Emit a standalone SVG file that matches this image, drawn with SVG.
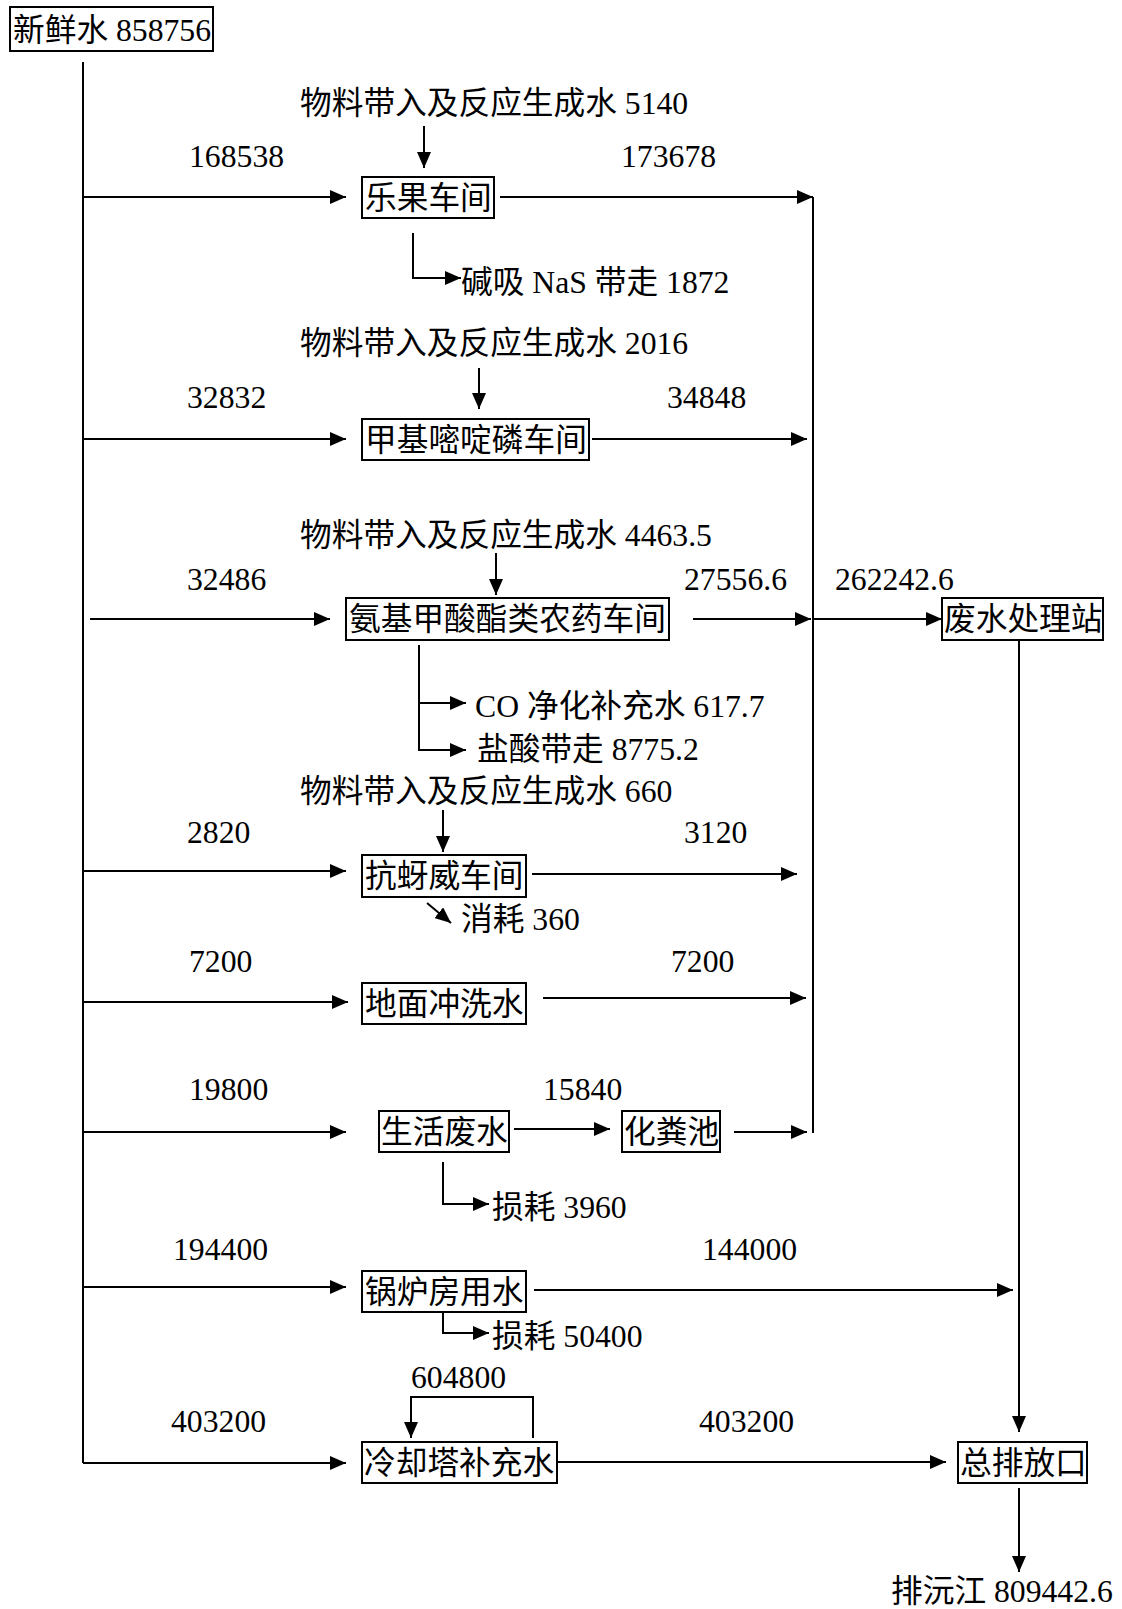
<svg xmlns="http://www.w3.org/2000/svg" width="1122" height="1609" viewBox="0 0 1122 1609">
<style>
.t{font-family:"Liberation Serif","Noto Sans CJK SC",serif;font-size:31.7px;fill:#000}
.ln{stroke:#000;stroke-width:2;fill:none}
.bx{fill:#fff;stroke:#000;stroke-width:2}
</style>
<defs>
<marker id="ah" markerUnits="userSpaceOnUse" markerWidth="16" markerHeight="14" refX="16" refY="7" orient="auto"><path d="M0,0 L16,7 L0,14 z" fill="#000"/></marker>
</defs>
<rect width="1122" height="1609" fill="#fff"/>
<g id="connectors">
<path class="ln" d="M83,62 V1463"/>
<path class="ln" d="M83,197 H346" marker-end="url(#ah)"/>
<path class="ln" d="M424,126 V168" marker-end="url(#ah)"/>
<path class="ln" d="M500,197 H813" marker-end="url(#ah)"/>
<path class="ln" d="M813,197 V1133"/>
<path class="ln" d="M413,233 V278 H461" marker-end="url(#ah)"/>
<path class="ln" d="M479,368 V409" marker-end="url(#ah)"/>
<path class="ln" d="M83,439 H346" marker-end="url(#ah)"/>
<path class="ln" d="M592,439 H807" marker-end="url(#ah)"/>
<path class="ln" d="M496,553 V595" marker-end="url(#ah)"/>
<path class="ln" d="M90,619 H330" marker-end="url(#ah)"/>
<path class="ln" d="M693,619 H811" marker-end="url(#ah)"/>
<path class="ln" d="M813,619 H942" marker-end="url(#ah)"/>
<path class="ln" d="M1019,640 V1432" marker-end="url(#ah)"/>
<path class="ln" d="M419,645 V750 H466" marker-end="url(#ah)"/>
<path class="ln" d="M419,703 H466" marker-end="url(#ah)"/>
<path class="ln" d="M443,810 V852" marker-end="url(#ah)"/>
<path class="ln" d="M83,871 H346" marker-end="url(#ah)"/>
<path class="ln" d="M532,874 H797" marker-end="url(#ah)"/>
<path class="ln" d="M427,903 L451,923" marker-end="url(#ah)"/>
<path class="ln" d="M83,1002 H348" marker-end="url(#ah)"/>
<path class="ln" d="M543,998 H806" marker-end="url(#ah)"/>
<path class="ln" d="M83,1132 H346" marker-end="url(#ah)"/>
<path class="ln" d="M514,1129 H610" marker-end="url(#ah)"/>
<path class="ln" d="M734,1132 H807" marker-end="url(#ah)"/>
<path class="ln" d="M443,1162 V1204 H489" marker-end="url(#ah)"/>
<path class="ln" d="M83,1287 H346" marker-end="url(#ah)"/>
<path class="ln" d="M534,1290 H1013" marker-end="url(#ah)"/>
<path class="ln" d="M443,1313 V1333 H489" marker-end="url(#ah)"/>
<path class="ln" d="M533,1438 V1397 H411 V1438" marker-end="url(#ah)"/>
<path class="ln" d="M83,1463 H346" marker-end="url(#ah)"/>
<path class="ln" d="M557,1462 H946" marker-end="url(#ah)"/>
<path class="ln" d="M1019,1488 V1572" marker-end="url(#ah)"/>
</g>
<g id="labels">
<text class="t" x="300" y="114">物料带入及反应生成水 5140</text>
<text class="t" x="189" y="167">168538</text>
<text class="t" x="621" y="167">173678</text>
<text class="t" x="461" y="293">碱吸 NaS 带走 1872</text>
<text class="t" x="300" y="354">物料带入及反应生成水 2016</text>
<text class="t" x="187" y="408">32832</text>
<text class="t" x="667" y="408">34848</text>
<text class="t" x="300" y="546">物料带入及反应生成水 4463.5</text>
<text class="t" x="187" y="590">32486</text>
<text class="t" x="684" y="590">27556.6</text>
<text class="t" x="835" y="590">262242.6</text>
<text class="t" x="475" y="717">CO 净化补充水 617.7</text>
<text class="t" x="477" y="760">盐酸带走 8775.2</text>
<text class="t" x="300" y="802">物料带入及反应生成水 660</text>
<text class="t" x="187" y="843">2820</text>
<text class="t" x="684" y="843">3120</text>
<text class="t" x="461" y="930">消耗 360</text>
<text class="t" x="189" y="972">7200</text>
<text class="t" x="671" y="972">7200</text>
<text class="t" x="189" y="1100">19800</text>
<text class="t" x="543" y="1100">15840</text>
<text class="t" x="492" y="1218">损耗 3960</text>
<text class="t" x="173" y="1260">194400</text>
<text class="t" x="702" y="1260">144000</text>
<text class="t" x="492" y="1347">损耗 50400</text>
<text class="t" x="411" y="1388">604800</text>
<text class="t" x="171" y="1432">403200</text>
<text class="t" x="699" y="1432">403200</text>
<text class="t" x="891" y="1602">排沅江 809442.6</text>
</g>
<g id="n-fresh"><rect class="bx" x="10" y="7" width="203" height="44"/><text class="t" x="13" y="41">新鲜水 858756</text></g>
<g id="n-leguo"><rect class="bx" x="362" y="177" width="132" height="41"/><text class="t" x="365" y="209">乐果车间</text></g>
<g id="n-jiaji"><rect class="bx" x="362" y="419" width="227" height="41"/><text class="t" x="365" y="451">甲基嘧啶磷车间</text></g>
<g id="n-anji"><rect class="bx" x="346" y="598" width="323" height="42"/><text class="t" x="349" y="630">氨基甲酸酯类农药车间</text></g>
<g id="n-wwtp"><rect class="bx" x="942" y="598" width="161" height="42"/><text class="t" x="944" y="630">废水处理站</text></g>
<g id="n-kangyawei"><rect class="bx" x="362" y="855" width="164" height="42"/><text class="t" x="365" y="887">抗蚜威车间</text></g>
<g id="n-floor"><rect class="bx" x="362" y="983" width="164" height="41"/><text class="t" x="365" y="1015">地面冲洗水</text></g>
<g id="n-domestic"><rect class="bx" x="379" y="1111" width="130" height="41"/><text class="t" x="381" y="1143">生活废水</text></g>
<g id="n-septic"><rect class="bx" x="622" y="1111" width="98" height="41"/><text class="t" x="624" y="1143">化粪池</text></g>
<g id="n-boiler"><rect class="bx" x="362" y="1271" width="164" height="41"/><text class="t" x="365" y="1303">锅炉房用水</text></g>
<g id="n-cooling"><rect class="bx" x="362" y="1442" width="195" height="41"/><text class="t" x="364" y="1474">冷却塔补充水</text></g>
<g id="n-outfall"><rect class="bx" x="958" y="1442" width="129" height="41"/><text class="t" x="960" y="1474">总排放口</text></g>
</svg>
